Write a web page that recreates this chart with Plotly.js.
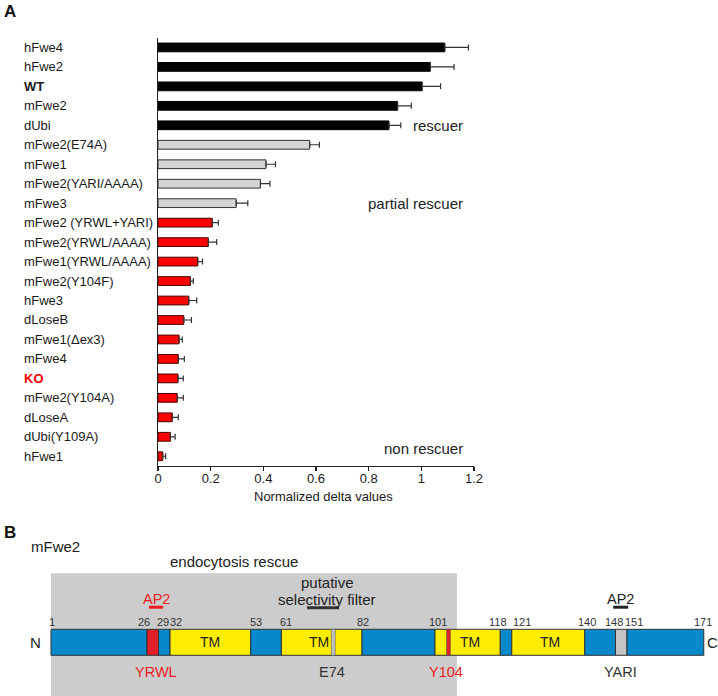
<!DOCTYPE html>
<html>
<head>
<meta charset="utf-8">
<script src="https://cdn.plot.ly/plotly-3.0.1.min.js"></script>
<style>
  html, body { margin: 0; padding: 0; background: #fff; }
  #plot { width: 718px; height: 696px; }
</style>
</head>
<body>
<div id="plot"></div>
<script>
// panel A: endocytosis rescue per construct (top to bottom)
var constructs = ['hFwe4', 'hFwe2', 'WT', 'mFwe2', 'dUbi', 'mFwe2(E74A)', 'mFwe1',
    'mFwe2(YARI/AAAA)', 'mFwe3', 'mFwe2 (YRWL+YARI)', 'mFwe2(YRWL/AAAA)',
    'mFwe1(YRWL/AAAA)', 'mFwe2(Y104F)', 'hFwe3', 'dLoseB', 'mFwe1(\u0394ex3)', 'mFwe4',
    'KO', 'mFwe2(Y104A)', 'dLoseA', 'dUbi(Y109A)', 'hFwe1'];
var deltaValues = [1.089, 1.034, 1.003, 0.910, 0.877, 0.576, 0.410, 0.389, 0.297, 0.206,
    0.191, 0.151, 0.123, 0.117, 0.098, 0.080, 0.077, 0.076, 0.073, 0.054, 0.047, 0.018];
var deltaErrors = [0.090, 0.090, 0.070, 0.052, 0.045, 0.037, 0.036, 0.036, 0.044, 0.023,
    0.032, 0.018, 0.011, 0.030, 0.029, 0.012, 0.023, 0.020, 0.023, 0.023, 0.018, 0.011];
var rescueClass = ['rescuer', 'rescuer', 'rescuer', 'rescuer', 'rescuer',
    'partial', 'partial', 'partial', 'partial',
    'non', 'non', 'non', 'non', 'non', 'non', 'non', 'non', 'non', 'non', 'non', 'non', 'non'];
var xTicks = [0, 0.2, 0.4, 0.6, 0.8, 1, 1.2];

// panel B: mFwe2 domain map (residue numbers)
var segStart = [1, 26, 29, 32, 53, 61, 82, 101, 118, 121, 140, 148, 151];
var segEnd = [26, 29, 32, 53, 61, 82, 101, 118, 121, 140, 148, 151, 171];
var segKind = ['loop', 'motif', 'loop', 'tm', 'loop', 'tm', 'loop', 'tm', 'loop', 'tm', 'loop', 'gray', 'loop'];
var residueMarks = [1, 26, 29, 32, 53, 61, 82, 101, 118, 121, 140, 148, 151, 171];
var markShift = [1, -3, 4, 6, 5, 5, 1, 3, -2, 10, 2, -1, 7, -1];
var tmCenters = [42.5, 70.7, 110, 131];
var stripeStart = [74, 104];
var stripeEnd = [75, 105];
var stripeKind = ['gray', 'motif'];
var motifNames = ['YRWL', 'E74', 'Y104', 'YARI'];
var motifPos = [28.3, 74.2, 103.9, 149.4];
var motifColor = ['#ee1c24', '#333333', '#ee1c24', '#333333'];
var ap2Sites = [[26.5, 30.2], [147.4, 151.3]];
var ap2Color = ['#ee1c24', '#222222'];
var filterSite = [67.7, 76];
var rescueRegion = [1, 106.7];

var font = 'Arial, "Liberation Sans", Helvetica, sans-serif';
var classFill = { rescuer: '#000000', partial: '#d4d4d4', non: '#ff0000' };
var classLine = { rescuer: '#000000', partial: '#333333', non: '#4a0000' };
var kindFill = { loop: '#0688cc', motif: '#e2202a', tm: '#ffed00', gray: '#c4c4c4' };

var bars = {
    type: 'bar',
    orientation: 'h',
    x: deltaValues,
    y: constructs,
    width: 0.45,
    marker: {
        color: rescueClass.map(function (c) { return classFill[c]; }),
        line: { color: rescueClass.map(function (c) { return classLine[c]; }), width: 1 }
    },
    error_x: {
        type: 'data',
        symmetric: false,
        array: deltaErrors,
        arrayminus: deltaErrors.map(function () { return 0; }),
        color: '#333333',
        thickness: 1.2,
        width: 3
    },
    hoverinfo: 'x+y',
    showlegend: false
};

var annotations = [];
constructs.forEach(function (c) {
    var txt = c;
    var col = '#1a1a1a';
    if (c === 'WT') txt = '<b>WT</b>';
    if (c === 'KO') { txt = '<b>KO</b>'; col = '#ff0000'; }
    annotations.push({
        xref: 'paper', yref: 'y', x: 22 / 718, y: c, text: txt,
        xanchor: 'left', yanchor: 'middle', showarrow: false,
        font: { family: font, size: 13, color: col }
    });
});
annotations.push(
    { xref: 'paper', yref: 'paper', x: 2 / 718, y: 1, text: '<b>A</b>',
      xanchor: 'left', yanchor: 'top', showarrow: false, font: { family: font, size: 17, color: '#111' } },
    { xref: 'x', yref: 'y', x: 1.166, y: 'dUbi', text: 'rescuer',
      xanchor: 'right', yanchor: 'middle', showarrow: false, font: { family: font, size: 15, color: '#222' } },
    { xref: 'x', yref: 'y', x: 1.166, y: 'mFwe3', text: 'partial rescuer',
      xanchor: 'right', yanchor: 'middle', showarrow: false, font: { family: font, size: 15, color: '#222' } },
    { xref: 'x', yref: 'y', x: 1.166, y: 20.6, text: 'non rescuer',
      xanchor: 'right', yanchor: 'middle', showarrow: false, font: { family: font, size: 15, color: '#222' } },
    { xref: 'x', yref: 'paper', x: 0.63, y: 1 - 496 / 696, text: 'Normalized delta values',
      xanchor: 'center', yanchor: 'middle', showarrow: false, font: { family: font, size: 13, color: '#1a1a1a' } }
);

// panel B texts
annotations.push(
    { xref: 'paper', yref: 'y2', x: 2 / 718, y: 8.48, text: '<b>B</b>',
      xanchor: 'left', yanchor: 'middle', showarrow: false, font: { family: font, size: 17, color: '#111' } },
    { xref: 'paper', yref: 'y2', x: 29 / 718, y: 7.35, text: 'mFwe2',
      xanchor: 'left', yanchor: 'middle', showarrow: false, font: { family: font, size: 15, color: '#222' } },
    { xref: 'x2', yref: 'y2', x: 48.7, y: 6.2, text: 'endocytosis rescue',
      xanchor: 'center', yanchor: 'middle', showarrow: false, font: { family: font, size: 15, color: '#222' } },
    { xref: 'x2', yref: 'y2', x: 72.9, y: 4.62, text: 'putative',
      xanchor: 'center', yanchor: 'middle', showarrow: false, font: { family: font, size: 15, color: '#222' } },
    { xref: 'x2', yref: 'y2', x: 72.9, y: 3.33, text: 'selectivity filter',
      xanchor: 'center', yanchor: 'middle', showarrow: false, font: { family: font, size: 15, color: '#222' } },
    { xref: 'x2', yref: 'y2', x: 1, y: 0, xshift: -15, text: 'N',
      xanchor: 'center', yanchor: 'middle', showarrow: false, font: { family: font, size: 15, color: '#222' } },
    { xref: 'x2', yref: 'y2', x: 171, y: 0, xshift: 9, text: 'C',
      xanchor: 'center', yanchor: 'middle', showarrow: false, font: { family: font, size: 15, color: '#222' } }
);
ap2Sites.forEach(function (s, i) {
    annotations.push({ xref: 'x2', yref: 'y2', x: (s[0] + s[1]) / 2, y: 3.3, text: 'AP2',
        xanchor: 'center', yanchor: 'middle', showarrow: false,
        font: { family: font, size: 14.5, color: ap2Color[i] } });
});
residueMarks.forEach(function (r, i) {
    annotations.push({ xref: 'x2', yref: 'y2', x: r, y: 1.55, xshift: markShift[i], text: String(r),
        xanchor: 'center', yanchor: 'middle', showarrow: false,
        font: { family: font, size: 11, color: '#333' } });
});
tmCenters.forEach(function (t) {
    annotations.push({ xref: 'x2', yref: 'y2', x: t, y: 0, text: 'TM',
        xanchor: 'center', yanchor: 'middle', showarrow: false,
        font: { family: font, size: 14, color: '#222' } });
});
motifNames.forEach(function (m, i) {
    annotations.push({ xref: 'x2', yref: 'y2', x: motifPos[i], y: -2.28, text: m,
        xanchor: 'center', yanchor: 'middle', showarrow: false,
        font: { family: font, size: 14.5, color: motifColor[i] } });
});

var shapes = [];
shapes.push({ type: 'rect', xref: 'x2', yref: 'y2', x0: rescueRegion[0], x1: rescueRegion[1],
    y0: -4.5, y1: 5.31, fillcolor: '#cccccc', line: { width: 0 }, layer: 'below' });
segStart.forEach(function (s, i) {
    shapes.push({ type: 'rect', xref: 'x2', yref: 'y2', x0: s, x1: segEnd[i], y0: -1, y1: 1,
        fillcolor: kindFill[segKind[i]], line: { color: '#333333', width: 1 } });
});
stripeStart.forEach(function (s, i) {
    shapes.push({ type: 'rect', xref: 'x2', yref: 'y2', x0: s, x1: stripeEnd[i], y0: -1, y1: 1,
        fillcolor: kindFill[stripeKind[i]], line: { color: '#555555', width: 0.6 } });
});
ap2Sites.forEach(function (s, i) {
    shapes.push({ type: 'line', xref: 'x2', yref: 'y2', x0: s[0], x1: s[1], y0: 2.7, y1: 2.7,
        line: { color: ap2Color[i], width: 3 } });
});
shapes.push({ type: 'line', xref: 'x2', yref: 'y2', x0: filterSite[0], x1: filterSite[1], y0: 2.66, y1: 2.66,
    line: { color: '#333333', width: 3 } });

var layout = {
    width: 718,
    height: 696,
    margin: { l: 0, r: 0, t: 0, b: 0 },
    paper_bgcolor: '#ffffff',
    plot_bgcolor: 'rgba(0,0,0,0)',
    font: { family: font, size: 13, color: '#1a1a1a' },
    bargap: 0.5,
    xaxis: {
        domain: [158 / 718, 474 / 718],
        range: [0, 1.2],
        tickvals: xTicks,
        ticktext: xTicks.map(String),
        ticks: 'outside',
        ticklen: 4,
        tickwidth: 1.2,
        tickcolor: '#222',
        ticklabelstandoff: -4,
        showline: true,
        linecolor: '#222',
        linewidth: 1.3,
        showgrid: false,
        zeroline: false,
        tickfont: { family: font, size: 13, color: '#1a1a1a' },
        fixedrange: true
    },
    yaxis: {
        domain: [1 - 466 / 696, 1 - 37.7 / 696],
        type: 'category',
        categoryorder: 'array',
        categoryarray: constructs,
        range: [21.5, -0.5],
        showticklabels: false,
        ticks: '',
        showline: true,
        linecolor: '#222',
        linewidth: 1.3,
        showgrid: false,
        zeroline: false,
        fixedrange: true
    },
    xaxis2: {
        domain: [0, 1],
        range: [-12.28, 174.70],
        anchor: 'y2',
        visible: false,
        fixedrange: true
    },
    yaxis2: {
        domain: [0, 0.26],
        range: [-4.13, 9.79],
        anchor: 'x2',
        visible: false,
        fixedrange: true
    },
    annotations: annotations,
    shapes: shapes
};

Plotly.newPlot('plot', [bars], layout, { displayModeBar: false, staticPlot: true });
</script>
</body>
</html>
